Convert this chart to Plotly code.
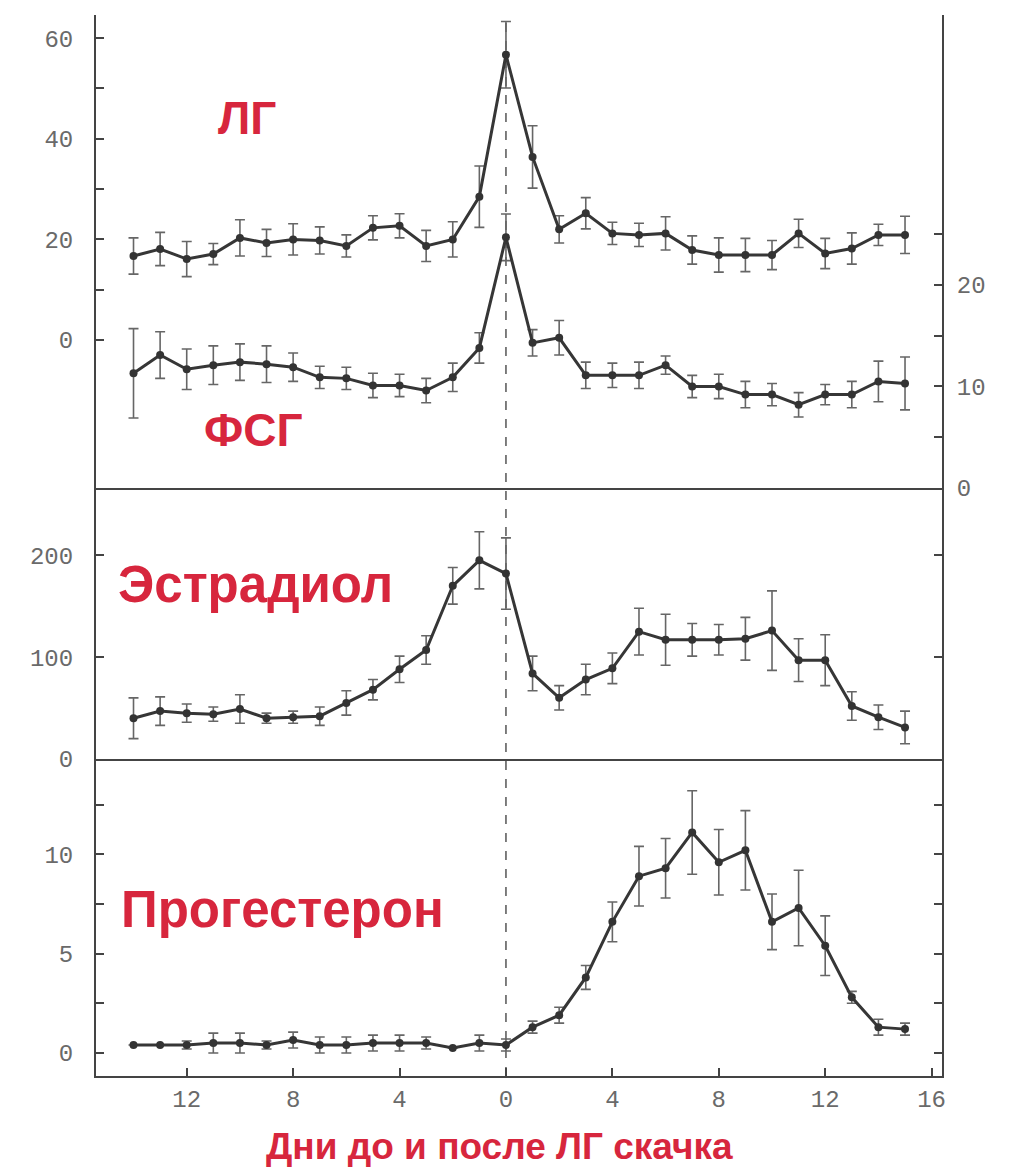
import plotly.graph_objects as go

days = list(range(-14, 16))

lh = [16.7, 18.1, 16.1, 17.1, 20.3, 19.3, 20.0, 19.8, 18.7, 22.3, 22.7, 18.7, 20.0, 28.5, 56.7,
      36.4, 22.0, 25.2, 21.2, 20.9, 21.2, 17.9, 16.9, 16.9, 16.9, 21.2, 17.2, 18.2, 20.9, 20.9]
lh_err = [3.6, 3.3, 3.5, 2.1, 3.6, 2.7, 3.1, 2.7, 2.2, 2.4, 2.4, 3.1, 3.5, 6.1, 6.6,
          6.2, 2.7, 3.1, 2.2, 2.3, 3.3, 2.8, 3.4, 3.3, 2.9, 2.8, 3.0, 3.1, 2.1, 3.7]

fsh = [11.3, 13.1, 11.7, 12.1, 12.4, 12.2, 11.9, 10.9, 10.8, 10.1, 10.1, 9.6, 10.9, 13.8, 24.7,
       14.3, 14.8, 11.1, 11.1, 11.1, 12.1, 10.0, 10.0, 9.2, 9.2, 8.2, 9.2, 9.2, 10.5, 10.3]
fsh_err = [4.4, 2.3, 2.0, 1.9, 1.8, 1.8, 1.4, 1.1, 1.1, 1.2, 1.1, 1.2, 1.4, 1.5, 2.3,
           1.3, 1.7, 1.3, 1.2, 1.3, 0.9, 1.1, 1.2, 1.3, 1.1, 1.2, 1.0, 1.3, 2.0, 2.6]

e2 = [40, 47, 45, 44, 49, 40, 41, 42, 55, 68, 88, 107, 170, 195, 182,
      84, 60, 78, 89, 125, 117, 117, 117, 118, 126, 97, 97, 52, 41, 31]
e2_err = [20, 14, 9, 7, 14, 5, 6, 9, 12, 10, 13, 14, 18, 28, 35,
          17, 12, 15, 15, 23, 25, 16, 15, 21, 39, 21, 25, 14, 12, 16]

prog = [0.4, 0.4, 0.4, 0.5, 0.5, 0.4, 0.65, 0.4, 0.4, 0.5, 0.5, 0.5, 0.25, 0.5, 0.4,
        1.3, 1.9, 3.8, 6.6, 8.9, 9.3, 11.1, 9.6, 10.2, 6.6, 7.3, 5.4, 2.8, 1.3, 1.2]
prog_err = [0.0, 0.0, 0.2, 0.5, 0.5, 0.2, 0.4, 0.4, 0.4, 0.4, 0.4, 0.3, 0.0, 0.4, 0.3,
            0.3, 0.4, 0.6, 1.0, 1.5, 1.5, 2.1, 1.65, 2.0, 1.4, 1.9, 1.5, 0.3, 0.4, 0.3]

x_tickvals = [-12, -8, -4, 0, 4, 8, 12, 16]
x_ticktext = ["12", "8", "4", "0", "4", "8", "12", "16"]

RED = "#d7263d"
LINE = "#363636"
AX = "#444444"
TICKFONT = dict(family="Liberation Mono", size=24, color="#6a6a6a")


def series(y, err, xa, ya):
    return go.Scatter(
        x=days, y=y, xaxis=xa, yaxis=ya, mode="lines+markers",
        line=dict(color=LINE, width=3),
        marker=dict(color="#333333", size=8),
        error_y=dict(type="data", array=err, visible=True, color="#666666",
                     thickness=1.6, width=5),
        showlegend=False, hoverinfo="x+y",
    )


fig = go.Figure()
fig.add_trace(series(lh, lh_err, "x3", "y"))
fig.add_trace(series(fsh, fsh_err, "x3", "y2"))
fig.add_trace(series(e2, e2_err, "x2", "y3"))
fig.add_trace(series(prog, prog_err, "x", "y4"))

xrange = [-15.41, 16.39]
common_y = dict(showgrid=False, zeroline=False, showline=True, linecolor=AX, linewidth=2,
                ticks="inside", ticklen=8, tickwidth=1.5, tickcolor=AX, tickfont=TICKFONT)

fig.update_layout(
    width=1010, height=1160,
    margin=dict(l=88, r=76, t=7, b=92),
    paper_bgcolor="white", plot_bgcolor="white",
    xaxis=dict(domain=[0, 1], anchor="y4", range=xrange, tickvals=x_tickvals,
               ticktext=x_ticktext, ticks="inside", ticklen=8, tickwidth=1.5,
               tickcolor=AX, showline=True, linecolor=AX, linewidth=2,
               showgrid=False, zeroline=False, tickfont=TICKFONT),
    xaxis2=dict(domain=[0, 1], anchor="y3", matches="x", range=xrange, showline=True,
                linecolor=AX, linewidth=2, showticklabels=False, ticks="",
                showgrid=False, zeroline=False),
    xaxis3=dict(domain=[0, 1], anchor="y", matches="x", range=xrange, showline=True,
                linecolor=AX, linewidth=2, showticklabels=False, ticks="",
                showgrid=False, zeroline=False),
    yaxis=dict(domain=[0.5542, 1], anchor="x3", range=[-29.4, 64.6],
               tickvals=[0, 10, 20, 30, 40, 50, 60],
               ticktext=["0", "", "20", "", "40", "", "60"],
               ticklabelstandoff=16, **common_y),
    yaxis2=dict(overlaying="y", side="right", anchor="x3", range=[0, 46.6],
                tickvals=[0, 5, 10, 15, 20, 25],
                ticktext=["0", "", "10", "", "20", ""],
                ticklabelstandoff=8, **common_y),
    yaxis3=dict(domain=[0.2988, 0.5542], anchor="x2", range=[0, 266],
                tickvals=[0, 100, 200], ticktext=["0", "100", "200"],
                ticklabelstandoff=16, mirror="ticks", **common_y),
    yaxis4=dict(domain=[0, 0.2988], anchor="x", range=[-1.16, 14.8],
                tickvals=[0, 2.5, 5, 7.5, 10, 12.5],
                ticktext=["0", "", "5", "", "10", ""],
                ticklabelstandoff=16, mirror="ticks", **common_y),
)

fig.add_shape(type="line", xref="x", yref="paper", x0=0, x1=0, y0=0, y1=0.995,
              line=dict(color="#555555", width=1.5, dash="dash"), layer="below")

labels = [
    ("ЛГ", 0.1785, 0.903, 46),
    ("ФСГ", 0.1856, 0.609, 46),
    ("Эстрадиол", 0.188, 0.4635, 51),
    ("Прогестерон", 0.2199, 0.1565, 51),
]
for txt, xp, yp, fs in labels:
    fig.add_annotation(text=txt, xref="paper", yref="paper", x=xp, y=yp,
                       xanchor="center", yanchor="middle", showarrow=False,
                       font=dict(family="Liberation Sans", size=fs, color=RED, weight="bold"))

fig.add_annotation(text="Дни до и после ЛГ скачка", xref="paper", yref="paper",
                   x=0.4775, y=-0.066, xanchor="center", yanchor="middle",
                   showarrow=False,
                   font=dict(family="Liberation Sans", size=37, color=RED, weight="bold"))

fig.write_html("out.html")
